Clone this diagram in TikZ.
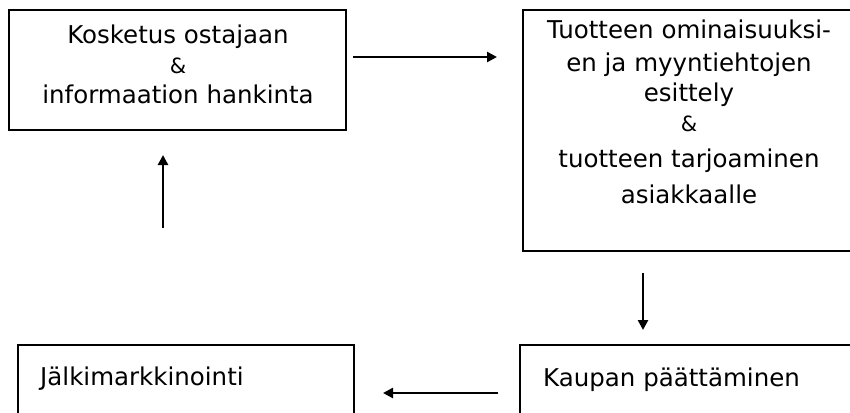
\documentclass[tikz,border=0pt]{standalone}
\usepackage{fontspec}
\setmainfont{DejaVu Sans}
\usetikzlibrary{arrows.meta}
\tikzset{
  box/.style={draw=black, line width=1.5pt, rectangle, inner sep=0pt},
  txt/.style={anchor=base, inner sep=0pt, font=\fontsize{24.5}{28}\selectfont},
  amp/.style={anchor=base, inner sep=0pt, font=\fontsize{21}{24}\selectfont},
  ltxt/.style={anchor=base west, inner sep=0pt, font=\fontsize{24.5}{28}\selectfont},
  arr/.style={line width=2.6pt, -{Triangle[length=10pt,width=10pt]}}
}
\begin{document}
\begin{tikzpicture}[x=1pt,y=-1pt]
\useasboundingbox (0,0) rectangle (850,412);
% boxes
\node[box, minimum width=337pt, minimum height=120pt] (b1) at (177.5,70) {};
\node[box, minimum width=334pt, minimum height=241pt] (b2) at (690,130.5) {};
\node[box, minimum width=336pt, minimum height=100pt] (b4) at (186,395) {};
\node[box, minimum width=340pt, minimum height=100pt] (b3) at (690,395) {};
% box 1 text
\node[txt] (t1a) at (178,44) {Kosketus ostajaan};
\node[amp] (t1b) at (178,73) {\&};
\node[txt] (t1c) at (178,103) {informaation hankinta};
% box 2 text
\node[txt] (t2a) at (689,38) {Tuotteen ominaisuuksi-};
\node[txt] (t2b) at (689,71) {en ja myyntiehtojen};
\node[txt] (t2c) at (689,101) {esittely};
\node[amp] (t2d) at (689,131) {\&};
\node[txt] (t2e) at (689,167) {tuotteen tarjoaminen};
\node[txt] (t2f) at (689,203) {asiakkaalle};
% bottom texts
\node[ltxt] (t4) at (40,385) {Jälkimarkkinointi};
\node[ltxt] (t3) at (543,386) {Kaupan päättäminen};
% arrow end points
\coordinate (a1s) at (353,57);
\coordinate (a1e) at (497,57);
\coordinate (a2s) at (643,273);
\coordinate (a2e) at (643,330);
\coordinate (a3s) at (498,393);
\coordinate (a3e) at (383,393);
\coordinate (a4s) at (163,228);
\coordinate (a4e) at (163,155);
\draw[arr] (a1s) -- (a1e);
\draw[arr] (a2s) -- (a2e);
\draw[arr] (a3s) -- (a3e);
\draw[arr] (a4s) -- (a4e);
\end{tikzpicture}
\end{document}
